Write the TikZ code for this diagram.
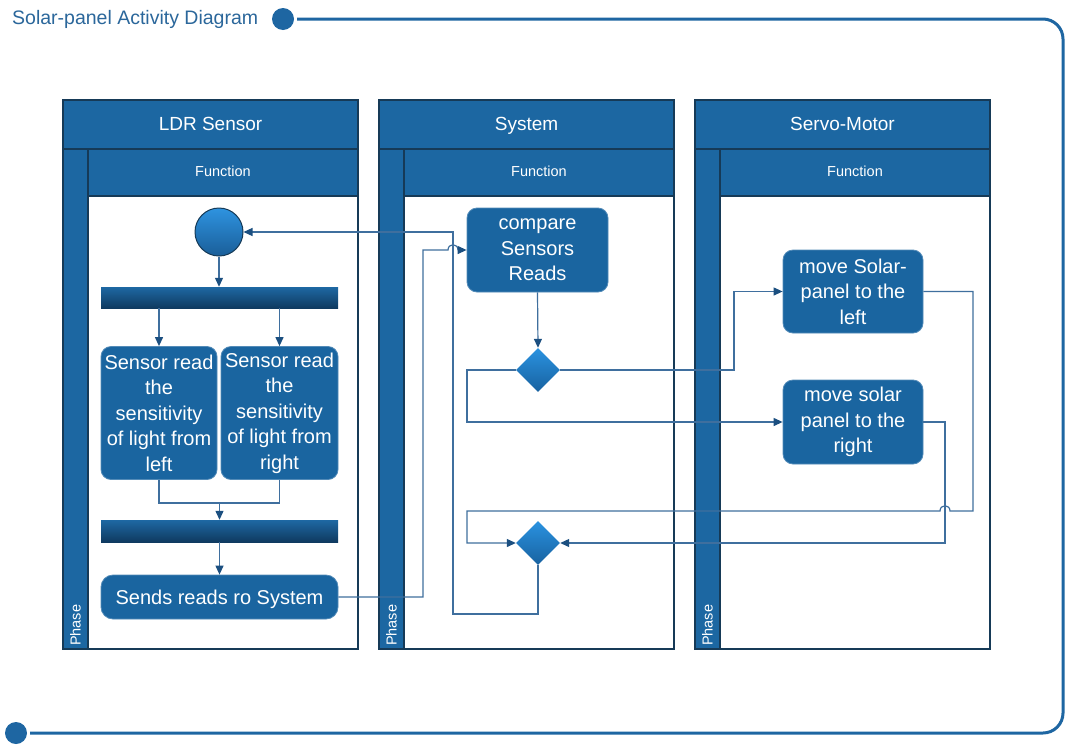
\documentclass[tikz,border=0pt]{standalone}
\usepackage{fontspec}
\setmainfont{Liberation Sans}
\usetikzlibrary{shapes.geometric,arrows.meta}
\definecolor{lanefill}{HTML}{1C67A2}
\definecolor{laneedge}{HTML}{163A57}
\definecolor{boxfill}{HTML}{1A65A0}
\definecolor{linec}{HTML}{3F6F9E}
\definecolor{arrowc}{HTML}{1B4F80}
\definecolor{titlec}{HTML}{2B679B}
\definecolor{framec}{HTML}{1E66A2}
\begin{document}
\begin{tikzpicture}[x=1pt,y=-1pt,
  lanebox/.style={draw=laneedge, line width=1.6pt},
  headtext/.style={text=white, inner sep=0pt, text height=14pt, text depth=4pt, font=\fontsize{19}{22}\selectfont},
  fntext/.style={text=white, inner sep=0pt, text height=10.5pt, text depth=3pt, font=\fontsize{14.5}{17}\selectfont},
  phasetext/.style={text=white, inner sep=0pt, font=\fontsize{14.5}{17}\selectfont},
  act/.style={draw=boxfill!75!white, line width=0.8pt, fill=boxfill, rounded corners=10pt,
    text=white, align=center, inner sep=0pt, font=\fontsize{20}{25.5}\selectfont},
  syncbar/.style={draw=none, top color=1E68A3, bottom color=0F3A60, inner sep=0pt,
    minimum width=237, minimum height=21},
  startc/.style={circle, draw=laneedge, line width=1pt, top color=2E93E0, bottom color=1A5E98,
    inner sep=0pt, minimum size=48},
  decis/.style={diamond, draw=none, top color=2A92E0, bottom color=1862A0, inner sep=0pt,
    minimum width=44, minimum height=44},
  conn/.style={draw=linec, line width=1.2pt, -{Triangle[length=9pt,width=8pt,color=arrowc]}},
  plainline/.style={draw=linec, line width=1.2pt},
  frame/.style={draw=framec, line width=3pt},
  dot/.style={circle, fill=framec, inner sep=0pt, minimum size=22}
]
\definecolor{1E68A3}{HTML}{1E68A3}
\definecolor{0F3A60}{HTML}{0F3A60}
\definecolor{2E93E0}{HTML}{2E93E0}
\definecolor{1A5E98}{HTML}{1A5E98}
\definecolor{2A92E0}{HTML}{2A92E0}
\definecolor{1862A0}{HTML}{1862A0}
\useasboundingbox (0,0) rectangle (1067,747);
\fill[white] (0,0) rectangle (1067,747);

% title and frame
\node[text=titlec, anchor=west, inner sep=0pt, font=\fontsize{19.5}{23}\selectfont] (title) at (12,19) {Solar-panel Activity Diagram};
\node[dot] (tdot) at (283,19) {};
\node[dot] (bdot) at (16,733) {};
\coordinate (ftop) at (297,19);
\coordinate (fbot) at (30,733);
\draw[frame, rounded corners=20pt] (ftop) -- (1063,19) -- (1063,733) -- (fbot);

% lanes
\foreach \x/\n/\t in {63/1/LDR Sensor, 379/2/System, 695/3/Servo-Motor}{
  \fill[white] (\x,100) rectangle ++(295,549);
  \draw[lanebox, fill=lanefill] (\x,100) rectangle ++(295,49);
  \draw[lanebox, fill=lanefill] (\x,149) rectangle ++(25,500);
  \draw[lanebox, fill=lanefill] (\x+25,149) rectangle ++(270,47);
  \draw[lanebox] (\x,100) rectangle ++(295,549);
  \node[headtext] (head\n) at (\x+147.5,125) {\t};
  \node[fntext] (fn\n) at (\x+160,172.5) {Function};
  \node[phasetext, rotate=90, anchor=west] (ph\n) at (\x+12.5,646) {Phase};
}

% nodes
\node[startc] (start) at (219,232) {};
\node[syncbar] (fork) at (219.5,297.5) {};
\node[act, minimum width=116, minimum height=133] (sL) at (159,413) {Sensor read\\the\\sensitivity\\of light from\\left};
\node[act, minimum width=117, minimum height=133] (sR) at (279.5,413) {Sensor read\\the\\sensitivity\\of light from\\right};
\node[syncbar, minimum height=22] (join) at (219.5,531) {};
\node[act, minimum width=237, minimum height=44, rounded corners=12pt, text height=16pt, text depth=2pt] (send) at (219.5,597) {Sends reads ro System};
\node[act, minimum width=141, minimum height=84] (cmp) at (537.5,250) {compare\\Sensors\\Reads};
\node[decis] (d1) at (538,370) {};
\node[decis] (d2) at (538,543) {};
\node[act, minimum width=140, minimum height=83] (mL) at (853,291.5) {move Solar-\\panel to the\\left};
\node[act, minimum width=140, minimum height=84] (mR) at (853,422) {move solar\\panel to the\\right};

% connectors
\draw[conn] (start.south) -- (start.south |- fork.north);
\draw[conn] (sL.north |- fork.south) -- (sL.north);
\draw[conn] (sR.north |- fork.south) -- (sR.north);
\coordinate (jm) at (219.5,503);
\draw[plainline] (sL.south) |- (jm);
\draw[plainline] (sR.south) |- (jm);
\draw[conn] (jm) -- (join.north);
\draw[conn] (join.south) -- (send.north);

\coordinate (up1) at (423,597);
\coordinate (j1a) at (448,250);
\coordinate (j1b) at (458,250);
\draw[conn] (send.east) -- (up1) |- (j1a) .. controls +(0,-7) and +(0,-7) .. (j1b) -- (cmp.west);

\coordinate (lb) at (453,614);
\coordinate (lt) at (453,232);
\draw[conn] (d2.south) |- (lb) -- (lt) -- (start.east);

\draw[conn] (cmp.south) -- (d1.north);

\coordinate (r1) at (734,370);
\draw[conn] (d1.east) -- (r1) |- (mL.west);
\coordinate (l1) at (467,370);
\draw[conn] (d1.west) -- (l1) |- (mR.west);

\coordinate (r2) at (973,511);
\coordinate (j2a) at (950,511);
\coordinate (j2b) at (940,511);
\coordinate (l2) at (467,511);
\draw[conn] (mL.east) -| (r2) -- (j2a) .. controls +(0,-7) and +(0,-7) .. (j2b) -- (l2) |- (d2.west);

\coordinate (r3) at (945,543);
\draw[conn] (mR.east) -| (r3) -- (d2.east);
\end{tikzpicture}
\end{document}
